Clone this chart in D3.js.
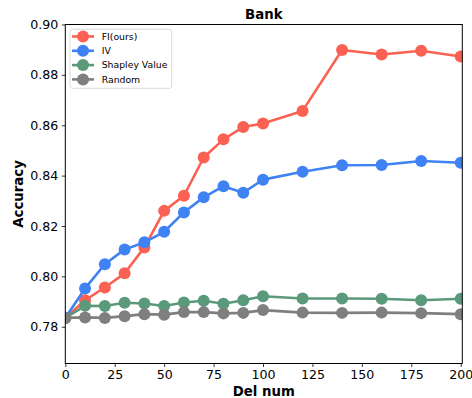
<!DOCTYPE html>
<html><head><meta charset="utf-8">
<script src="https://cdn.jsdelivr.net/npm/d3@7"></script>
<style>body{margin:0;background:#fff}svg{display:block}text{font-family:"DejaVu Sans",sans-serif}</style>
</head><body><svg id="c" width="472" height="398"></svg>
<script>
const delNum = [0,10,20,30,40,50,60,70,80,90,100,120,140,160,180,200];
const fiOurs = [0.7835,0.7905,0.7956,0.8012,0.8115,0.8260,0.8320,0.8472,0.8544,0.8593,0.8607,0.8657,0.8899,0.8881,0.8896,0.8873];
const iv = [0.7835,0.7952,0.8048,0.8107,0.8135,0.8177,0.8254,0.8314,0.8358,0.8332,0.8384,0.8415,0.8441,0.8442,0.8458,0.8451];
const shapley = [0.7835,0.7883,0.7882,0.7895,0.7892,0.7882,0.7896,0.7903,0.7891,0.7905,0.7921,0.7912,0.7912,0.7911,0.7905,0.7911];
const randomSel = [0.7835,0.7837,0.7835,0.7842,0.7850,0.7848,0.7858,0.7858,0.7853,0.7855,0.7866,0.7856,0.7855,0.7856,0.7854,0.7850];
const seriesNames = ["FI(ours)","IV","Shapley Value","Random"];
const seriesColors = ["#fb6152","#3f82f4","#5a9a7b","#7f7f7f"];
const xTicks = [0,25,50,75,100,125,150,175,200];
const yTicks = [0.78,0.80,0.82,0.84,0.86,0.88,0.90];

const series = [fiOurs, iv, shapley, randomSel];
const svg = d3.select("#c");
const L = 65.3, R = 462.3, T = 24.5, B = 363.5;
const x = d3.scaleLinear().domain([0, 200.8]).range([L, R]);
const y = d3.scaleLinear().domain([0.7654, 0.90]).range([B, T]);

svg.append("defs").append("clipPath").attr("id","clip")
  .append("rect").attr("x",L).attr("y",T).attr("width",R-L).attr("height",B-T);

const g = svg.append("g").attr("clip-path","url(#clip)");
const line = d3.line().x((d,i)=>x(delNum[i])).y(d=>y(d));
series.forEach((s,k)=>{
  g.append("path").datum(s).attr("d",line).attr("fill","none")
    .attr("stroke",seriesColors[k]).attr("stroke-width",2.6).attr("stroke-linejoin","round");
  g.selectAll(null).data(s).enter().append("circle")
    .attr("cx",(d,i)=>x(delNum[i])).attr("cy",d=>y(d)).attr("r",6)
    .attr("fill",seriesColors[k]);
});

// axes
const xa = svg.append("g").attr("transform",`translate(0,${B})`)
  .call(d3.axisBottom(x).tickValues(xTicks).tickFormat(d3.format("d")).tickSize(3.5).tickPadding(3.5));
const ya = svg.append("g").attr("transform",`translate(${L},0)`)
  .call(d3.axisLeft(y).tickValues(yTicks).tickFormat(d3.format(".2f")).tickSize(3.5).tickPadding(3.5));
[xa,ya].forEach(a=>{
  a.select(".domain").remove();
  a.selectAll("line").attr("stroke","#000").attr("stroke-width",0.8);
  a.selectAll("text").attr("font-size","12.6px").attr("fill","#000");
});

// frame
svg.append("rect").attr("x",L).attr("y",T).attr("width",R-L).attr("height",B-T)
  .attr("fill","none").attr("stroke","#000").attr("stroke-width",1);

// title & labels
svg.append("text").attr("x",(L+R)/2).attr("y",18.5).attr("text-anchor","middle")
  .attr("font-weight","bold").attr("font-size","13.3px").text("Bank");
svg.append("text").attr("x",(L+R)/2).attr("y",396).attr("text-anchor","middle")
  .attr("font-weight","bold").attr("font-size","13.3px").text("Del num");
svg.append("text").attr("transform",`translate(23,${(T+B)/2}) rotate(-90)`).attr("text-anchor","middle")
  .attr("font-weight","bold").attr("font-size","13.3px").text("Accuracy");

// legend
const lg = svg.append("g");
lg.append("rect").attr("x",70).attr("y",29.3).attr("width",101.7).attr("height",59)
  .attr("rx",2.5).attr("fill","#fff").attr("fill-opacity",0.8).attr("stroke","#d0d0d0").attr("stroke-width",0.8);
seriesNames.forEach((n,k)=>{
  const yy = 36.5 + k*14.3;
  lg.append("line").attr("x1",72).attr("x2",94).attr("y1",yy).attr("y2",yy)
    .attr("stroke",seriesColors[k]).attr("stroke-width",2.6);
  lg.append("circle").attr("cx",83).attr("cy",yy).attr("r",6).attr("fill",seriesColors[k]);
  lg.append("text").attr("x",101.7).attr("y",yy+3.3).attr("font-size","9.3px").text(n);
});
</script></body></html>
